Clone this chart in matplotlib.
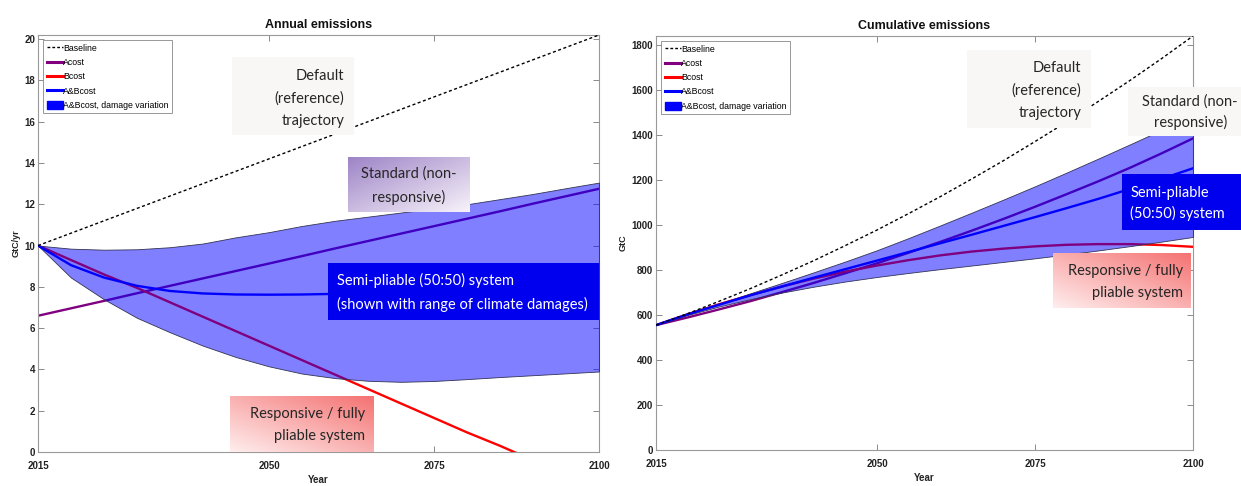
import matplotlib
matplotlib.use("Agg")
import matplotlib.pyplot as plt
from matplotlib.lines import Line2D
from matplotlib.patches import Patch
import numpy as np

W, H = 1241, 486

# ---- data ----
years = [2015, 2020, 2025, 2030, 2035, 2040, 2045, 2050, 2055,
         2060, 2065, 2070, 2075, 2080, 2085, 2090, 2095, 2100]

# annual emissions, GtC/yr
ann_baseline = [10.0, 10.6, 11.2, 11.8, 12.4, 13.0, 13.6, 14.2, 14.8,
                15.4, 16.0, 16.6, 17.2, 17.8, 18.4, 19.0, 19.6, 20.2]
ann_acost = [6.60, 6.96, 7.32, 7.69, 8.05, 8.41, 8.77, 9.13, 9.49,
             9.86, 10.22, 10.58, 10.94, 11.30, 11.66, 12.03, 12.39, 12.75]
ann_bcost = [10.0, 9.3, 8.6, 7.95, 7.25, 6.55, 5.85, 5.15, 4.45,
             3.75, 3.05, 2.35, 1.65, 0.95, 0.3, -0.4, -1.1, -1.8]
ann_abcost = [10.0, 9.05, 8.45, 8.05, 7.8, 7.68, 7.63, 7.62, 7.63,
              7.66, 7.7, 7.75, 7.8, 7.86, 7.92, 7.98, 8.04, 8.1]
ann_band_hi = [10.0, 9.85, 9.8, 9.82, 9.92, 10.1, 10.4, 10.65, 10.95,
               11.2, 11.4, 11.6, 11.8, 12.0, 12.25, 12.5, 12.78, 13.05]
ann_band_lo = [10.0, 8.45, 7.4, 6.5, 5.8, 5.15, 4.6, 4.15, 3.8,
               3.58, 3.45, 3.4, 3.44, 3.53, 3.63, 3.72, 3.81, 3.9]

# cumulative emissions, GtC
cum_baseline = [555, 606, 661, 718, 779, 842, 909, 978, 1051,
                1126, 1205, 1286, 1371, 1458, 1549, 1642, 1739, 1840]
cum_acost = [555, 589, 625, 662, 702, 743, 786, 830, 877,
             925, 975, 1027, 1081, 1137, 1194, 1254, 1318, 1385]
cum_bcost = [555, 603, 648, 689, 727, 762, 793, 820, 844,
             865, 882, 895, 905, 912, 915, 915, 911, 903]
cum_abcost = [555, 603, 646, 688, 727, 766, 804, 842, 880,
              919, 957, 996, 1035, 1075, 1116, 1160, 1205, 1252]
cum_band_hi = [555, 603, 650, 697, 743, 790, 838, 888, 942,
               998, 1055, 1113, 1172, 1233, 1295, 1358, 1422, 1488]
cum_band_lo = [555, 600, 638, 671, 700, 726, 749, 769, 787,
               804, 820, 836, 852, 869, 887, 906, 926, 947]

xticks = [2015, 2050, 2075, 2100]
legend_labels = ["Baseline", "Acost", "Bcost", "A&Bcost", "A&Bcost, damage variation"]

narrow = ["Liberation Sans Narrow", "Liberation Sans", "DejaVu Sans"]
calibri = ["Lato", "DejaVu Sans"]
purple = "#800080"

fig = plt.figure(figsize=(W / 100, H / 100), dpi=100)


def px_axes(x0, y0, x1, y1):
    return fig.add_axes([x0 / W, 1 - y1 / H, (x1 - x0) / W, (y1 - y0) / H])


def panel(ax, base, acost, bcost, abcost, lo, hi, title, ylabel, yticks):
    ax.plot(years, acost, color=purple, lw=1.7, zorder=2)
    ax.plot(years, bcost, color="red", lw=1.7, zorder=2)
    ax.fill_between(years, lo, hi, facecolor=(0, 0, 1, 0.5),
                    edgecolor="#333355", lw=0.6, zorder=3)
    ax.plot(years, abcost, color="blue", lw=1.7, zorder=4)
    ax.plot(years, base, color="black", ls=(0, (2.2, 1.8)), lw=1.0, zorder=5)

    ax.set_xlim(2015, 2100)
    ax.set_ylim(0, max(base))
    ax.set_xticks(xticks)
    ax.set_yticks(yticks)
    ax.tick_params(direction="in", top=True, right=True, length=4, width=0.6,
                   colors="#777777", labelcolor="#222222")
    ax.tick_params(axis="x", pad=6.5)
    ax.tick_params(axis="y", pad=2)
    for lab in ax.get_xticklabels() + ax.get_yticklabels():
        lab.set_fontfamily(narrow)
        lab.set_fontweight("bold")
        lab.set_fontsize(7)
    for sp in ax.spines.values():
        sp.set_color("#999999")
        sp.set_linewidth(0.8)
    ax.set_title(title, fontfamily=narrow, fontweight="bold", fontsize=9,
                 color="#111111", pad=5)
    ax.set_ylabel(ylabel, fontfamily=narrow, fontweight="bold", fontsize=6.5,
                  color="#222222", labelpad=3)
    ax.set_xlabel("Year", fontfamily=narrow, fontweight="bold", fontsize=7,
                  color="#222222", labelpad=3)

    handles = [Line2D([], [], color="black", ls=(0, (2, 1.5)), lw=1.0),
               Line2D([], [], color=purple, lw=2.2),
               Line2D([], [], color="red", lw=2.2),
               Line2D([], [], color="blue", lw=2.2),
               Patch(facecolor="blue", edgecolor="blue")]
    leg = ax.legend(handles, legend_labels, loc="upper left",
                    prop={"family": narrow, "size": 6.3},
                    frameon=True, fancybox=False, framealpha=1,
                    edgecolor="#888888", borderpad=0.4, labelspacing=0.6,
                    handlelength=1.8, handleheight=1.0, handletextpad=0.1,
                    borderaxespad=0.6)
    leg.get_frame().set_linewidth(0.6)


ax1 = px_axes(38, 35, 599, 452)
panel(ax1, ann_baseline, ann_acost, ann_bcost, ann_abcost, ann_band_lo,
      ann_band_hi, "Annual emissions", "GtC/yr", range(0, 21, 2))

ax2 = px_axes(656, 36, 1193, 450)
panel(ax2, cum_baseline, cum_acost, cum_bcost, cum_abcost, cum_band_lo,
      cum_band_hi, "Cumulative emissions", "GtC", range(0, 1801, 200))


# ---- coloured annotation boxes ----
def note(x0, y0, x1, y1, text, c0, c1, mode, tcolor, ha, tx, ty=0.48, ls=1.72):
    bax = px_axes(x0, y0, x1, y1)
    bax.set_axis_off()
    gx, gy = np.meshgrid(np.linspace(0, 1, 80), np.linspace(0, 1, 40))
    if mode == "tl":        # c0 at top-left
        t = (gx + gy) / 2
    elif mode == "tr":      # c0 at top-right
        t = ((1 - gx) + gy) / 2
    else:
        t = np.zeros_like(gx)
    c0 = np.array(c0)
    c1 = np.array(c1)
    img = c0[None, None, :] + t[..., None] * (c1 - c0)[None, None, :]
    bax.imshow(img, extent=[0, 1, 0, 1], aspect="auto", interpolation="bilinear")
    bax.set_xlim(0, 1)
    bax.set_ylim(0, 1)
    bax.text(tx, ty, text, ha=ha, va="center", multialignment=ha,
             transform=bax.transAxes, fontsize=10.5, color=tcolor,
             family=calibri, linespacing=ls)


faint = (0.975, 0.972, 0.965)
pur_dark, pur_light = (0.62, 0.52, 0.78), (0.97, 0.95, 0.98)
red_strong, red_light = (0.96, 0.45, 0.45), (1.0, 0.93, 0.93)
solid_blue = (0.0, 0.0, 0.94)
txt = "#262626"

# annual panel
note(232, 57, 353, 135, "Default\n(reference)\ntrajectory", faint, faint, "flat",
     txt, "right", 0.93, ty=0.47)
note(348, 157, 470, 212, "Standard (non-\nresponsive)", pur_dark, pur_light, "tl",
     txt, "center", 0.5)
note(328, 263, 599, 320, "Semi-pliable (50:50) system\n(shown with range of climate damages)",
     solid_blue, solid_blue, "flat", "white", "left", 0.035)
note(230, 396, 374, 452, "Responsive / fully\npliable system", red_strong, red_light, "tr",
     txt, "right", 0.94)

# cumulative panel
note(967, 50, 1091, 128, "Default\n(reference)\ntrajectory", faint, faint, "flat",
     txt, "right", 0.92)
note(1128, 87, 1241, 136, "Standard (non-\nresponsive)", faint, faint, "flat",
     txt, "center", 0.55, ls=1.5)
note(1122, 174, 1241, 230, "Semi-pliable\n(50:50) system", solid_blue, solid_blue, "flat",
     "white", "left", 0.07, ls=1.5)
note(1053, 253, 1191, 308, "Responsive / fully\npliable system", red_strong, red_light, "tr",
     txt, "right", 0.94)

fig.savefig("out.png", dpi=100)
